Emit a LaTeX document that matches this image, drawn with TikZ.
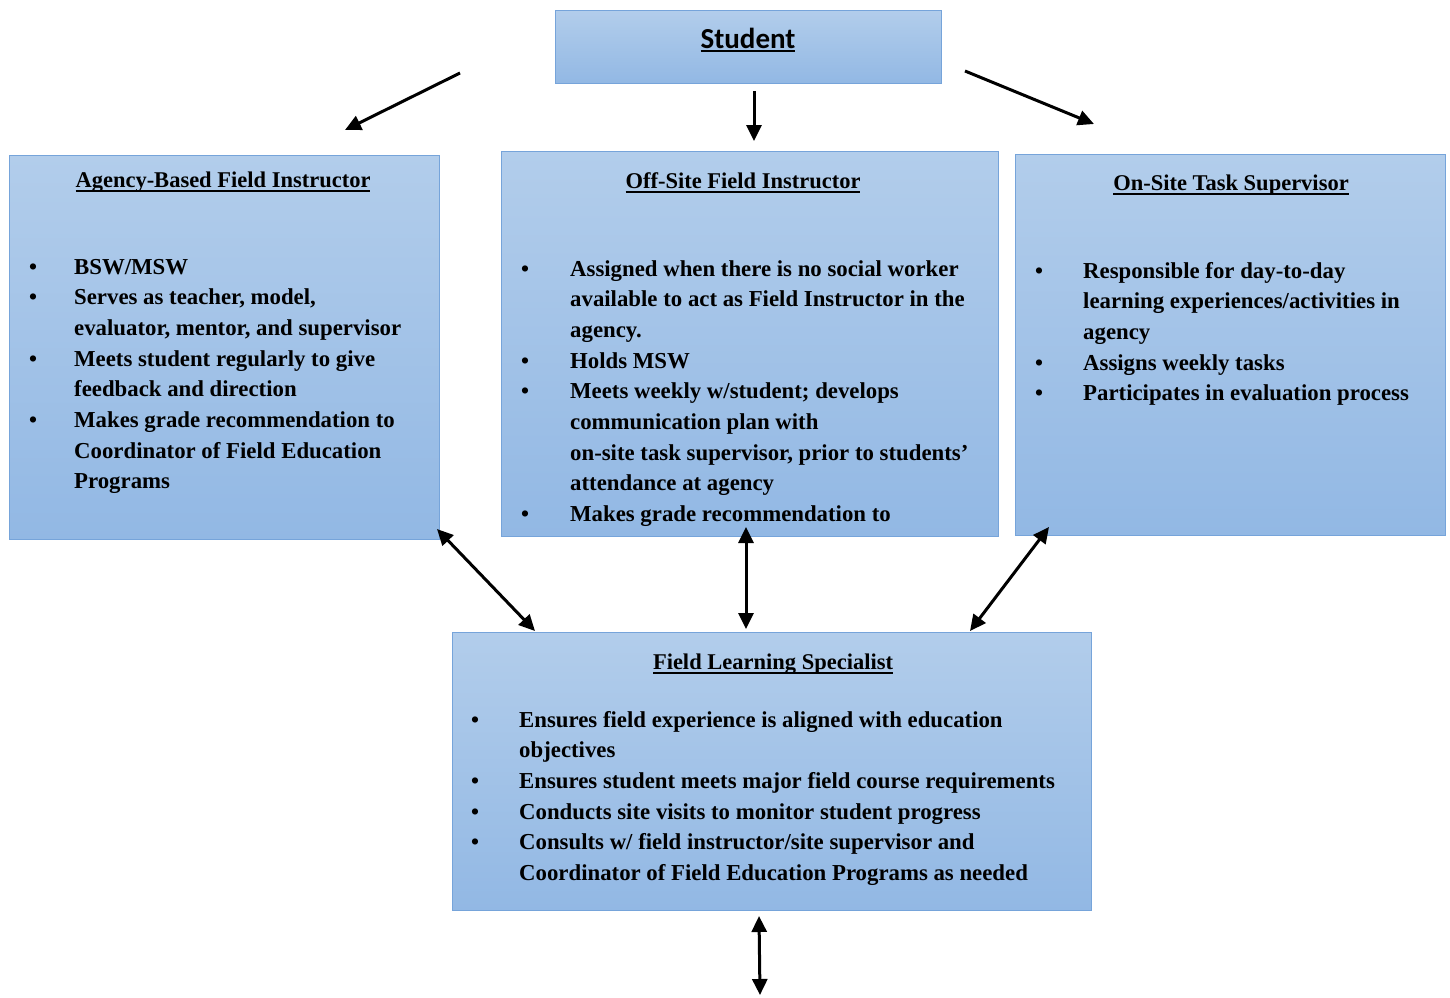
\documentclass[tikz,border=0pt]{standalone}
\usepackage{fontspec}
\setmainfont{Liberation Serif}
\newfontfamily\calib{Carlito}
\usetikzlibrary{arrows.meta}
\definecolor{boxtop}{RGB}{178,205,235}
\definecolor{boxbot}{RGB}{146,184,228}
\definecolor{boxline}{RGB}{118,164,218}
\newcommand\thickul[2][5pt]{\setbox0\hbox{#2}\rlap{\raisebox{-#1}{\rule{\wd0}{1.7pt}}}\box0}
\begin{document}
\begin{tikzpicture}[x=1pt,y=-1pt,
  box/.style={draw=boxline, line width=1.2pt, top color=boxtop, bottom color=boxbot,
    anchor=north west, inner sep=0pt},
  ttl/.style={anchor=base, inner sep=0pt, font=\bfseries\fontsize{22.5}{27}\selectfont},
  lst/.style={anchor=base west, inner sep=0pt, font=\bfseries\fontsize{22.8}{30.7}\selectfont},
  arr/.style={line width=3pt, -{Triangle[length=16pt,width=15pt]}},
  darr/.style={line width=3pt, {Triangle[length=16pt,width=15pt]}-{Triangle[length=16pt,width=15pt]}}
]
\useasboundingbox (0,0) rectangle (1450,997);

% boxes
\node[box, minimum width=386pt, minimum height=73pt] (student) at (555,10) {};
\node[box, minimum width=430pt, minimum height=384pt] (agency) at (9,155) {};
\node[box, minimum width=497pt, minimum height=385pt] (offsite) at (501,151) {};
\node[box, minimum width=430pt, minimum height=381pt] (onsite) at (1015,154) {};
\node[box, minimum width=639pt, minimum height=278pt] (fls) at (452,632) {};

% titles
\node[anchor=base, inner sep=0pt, font=\calib\bfseries\fontsize{29}{34}\selectfont] (studentT) at (748,48) {\thickul[3.5pt]{Student}};
\node[ttl] (agencyT) at (223,187) {\thickul{Agency-Based Field Instructor}};
\node[ttl] (offsiteT) at (743,188) {\thickul{Off-Site Field Instructor}};
\node[ttl] (onsiteT) at (1231,190) {\thickul{On-Site Task Supervisor}};
\node[ttl] (flsT) at (773,669) {\thickul{Field Learning Specialist}};

% lists
\node[lst] (agencyL) at (29,274) {\begin{tabular}[t]{@{}p{45pt}@{}l@{}}
\textbullet & BSW/MSW\\
\textbullet & Serves as teacher, model,\\
 & evaluator, mentor, and supervisor\\
\textbullet & Meets student regularly to give\\
 & feedback and direction\\
\textbullet & Makes grade recommendation to\\
 & Coordinator of Field Education\\
 & Programs
\end{tabular}};

\node[lst] (offsiteL) at (521,276) {\begin{tabular}[t]{@{}p{49pt}@{}l@{}}
\textbullet & Assigned when there is no social worker\\
 & available to act as Field Instructor in the\\
 & agency.\\
\textbullet & Holds MSW\\
\textbullet & Meets weekly w/student; develops\\
 & communication plan with\\
 & on-site task supervisor, prior to students’\\
 & attendance at agency\\
\textbullet & Makes grade recommendation to
\end{tabular}};

\node[lst] (onsiteL) at (1035,278) {\begin{tabular}[t]{@{}p{48pt}@{}l@{}}
\textbullet & Responsible for day-to-day\\
 & learning experiences/activities in\\
 & agency\\
\textbullet & Assigns weekly tasks\\
\textbullet & Participates in evaluation process
\end{tabular}};

\node[lst] (flsL) at (471,727) {\begin{tabular}[t]{@{}p{48pt}@{}l@{}}
\textbullet & Ensures field experience is aligned with education\\
 & objectives\\
\textbullet & Ensures student meets major field course requirements\\
\textbullet & Conducts site visits to monitor student progress\\
\textbullet & Consults w/ field instructor/site supervisor and\\
 & Coordinator of Field Education Programs as needed
\end{tabular}};

% connector end points
\coordinate (sL1) at (460,73);  \coordinate (sL2) at (345,130);
\coordinate (sC1) at (754,91);  \coordinate (sC2) at (754,141);
\coordinate (sR1) at (965,71);  \coordinate (sR2) at (1094,124);
\coordinate (dL1) at (437,529); \coordinate (dL2) at (535,631);
\coordinate (dC1) at (746,527); \coordinate (dC2) at (746,629);
\coordinate (dR1) at (1049,527); \coordinate (dR2) at (970,631);
\coordinate (dB1) at (759,916); \coordinate (dB2) at (760,995);

\draw[arr] (sL1) -- (sL2);
\draw[arr] (sC1) -- (sC2);
\draw[arr] (sR1) -- (sR2);
\draw[darr] (dL1) -- (dL2);
\draw[darr] (dC1) -- (dC2);
\draw[darr] (dR1) -- (dR2);
\draw[darr] (dB1) -- (dB2);
\end{tikzpicture}
\end{document}
